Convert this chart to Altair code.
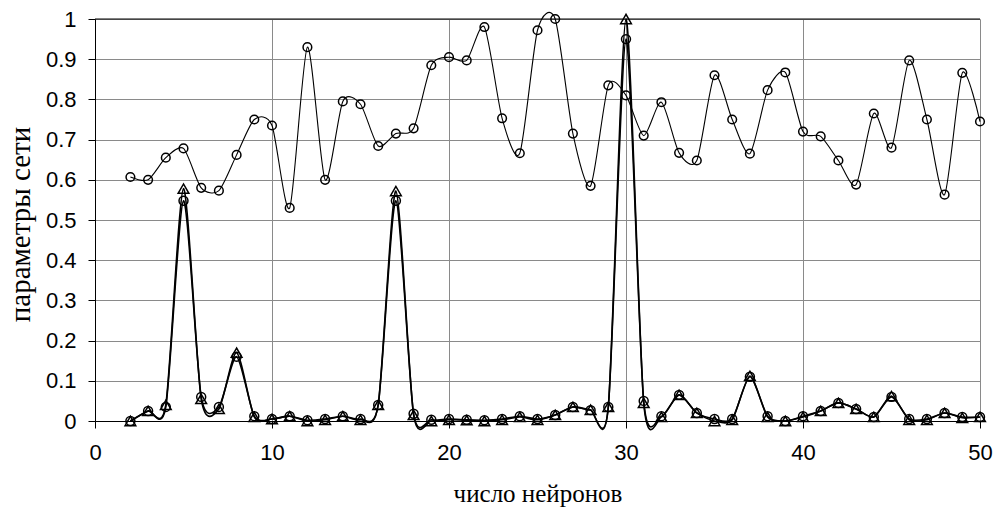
import altair as alt
import pandas as pd

x_vals = list(range(2, 51))

upper = [0.607, 0.600, 0.655, 0.678, 0.580, 0.573, 0.662, 0.750, 0.735, 0.530,
         0.930, 0.600, 0.795, 0.788, 0.684, 0.715, 0.728, 0.885, 0.905, 0.897,
         0.980, 0.753, 0.666, 0.972, 1.000, 0.715, 0.585, 0.835, 0.810, 0.710,
         0.793, 0.667, 0.648, 0.860, 0.750, 0.665, 0.823, 0.867, 0.720, 0.708,
         0.648, 0.588, 0.765, 0.680, 0.897, 0.750, 0.563, 0.866, 0.745]

lower_circ = [0.000, 0.025, 0.035, 0.548, 0.060, 0.035, 0.160, 0.012, 0.005, 0.012,
              0.002, 0.005, 0.012, 0.005, 0.040, 0.548, 0.018, 0.003, 0.005, 0.003,
              0.002, 0.005, 0.012, 0.005, 0.015, 0.035, 0.027, 0.035, 0.950, 0.050,
              0.012, 0.065, 0.020, 0.005, 0.005, 0.110, 0.012, 0.000, 0.012, 0.025,
              0.045, 0.030, 0.010, 0.060, 0.005, 0.005, 0.020, 0.010, 0.010]

lower_tri = [0.000, 0.025, 0.040, 0.578, 0.055, 0.030, 0.170, 0.010, 0.005, 0.012,
             0.000, 0.003, 0.012, 0.003, 0.040, 0.572, 0.015, 0.000, 0.003, 0.002,
             0.000, 0.003, 0.010, 0.003, 0.015, 0.035, 0.028, 0.035, 1.000, 0.045,
             0.010, 0.065, 0.020, 0.000, 0.003, 0.112, 0.010, 0.000, 0.010, 0.025,
             0.045, 0.030, 0.010, 0.062, 0.003, 0.003, 0.020, 0.008, 0.010]

x_ticks = [0, 10, 20, 30, 40, 50]
y_ticks = [round(i * 0.1, 1) for i in range(11)]

df_u = pd.DataFrame({"x": x_vals, "y": upper})
df_c = pd.DataFrame({"x": x_vals, "y": lower_circ})
df_t = pd.DataFrame({"x": x_vals, "y": lower_tri})

xscale = alt.Scale(domain=[0, 50], nice=False, zero=False)
yscale = alt.Scale(domain=[0, 1], nice=False)

xaxis = alt.Axis(values=x_ticks, grid=True, gridColor="#8a8a8a", gridWidth=1,
                 domainColor="black", tickColor="black", tickSize=7,
                 labelFont="Liberation Sans", labelFontSize=22, labelColor="black",
                 labelPadding=14, labelFlush=False,
                 title="число нейронов", titleFont="Liberation Serif",
                 titleFontSize=25, titleFontWeight="normal", titleColor="black",
                 titleY=80, titleBaseline="alphabetic")
yaxis = alt.Axis(values=y_ticks, format=".1~f", grid=True, gridColor="#8a8a8a",
                 gridWidth=1, domainColor="black", tickColor="black", tickSize=7,
                 labelFont="Liberation Sans", labelFontSize=22, labelColor="black",
                 labelPadding=12, labelFlush=False,
                 title="параметры сети", titleFont="Liberation Serif",
                 titleFontSize=29, titleFontWeight="normal", titleColor="black",
                 titleAngle=270, titleX=-75, titleY=205, titleAlign="center",
                 titleBaseline="middle")

base_x = alt.X("x:Q", scale=xscale, axis=xaxis)
base_y = alt.Y("y:Q", scale=yscale, axis=yaxis)

top_rule = alt.Chart(pd.DataFrame({"y": [1.0]})).mark_rule(color="black", strokeWidth=1).encode(
    y=alt.Y("y:Q", scale=yscale), x=alt.value(0), x2=alt.value(885))

def line(df, w):
    return alt.Chart(df).mark_line(interpolate="cardinal", tension=0.25, color="black",
                                   strokeWidth=w).encode(x=base_x, y=base_y)

def pts(df, shape, size):
    return alt.Chart(df).mark_point(shape=shape, filled=False, size=size, stroke="black",
                                    strokeWidth=1.5, opacity=1).encode(x=base_x, y=base_y)

chart = alt.layer(
    top_rule,
    line(df_u, 1.1),
    line(df_c, 1.6),
    line(df_t, 1.6),
    pts(df_u, "circle", 75),
    pts(df_c, "circle", 80),
    pts(df_t, "triangle-up", 115),
).properties(
    width=885, height=402,
    autosize=alt.AutoSizeParams(type="none"),
    padding={"left": 95, "top": 19, "right": 15, "bottom": 86},
    background="white",
).configure_view(stroke=None)

chart.save("out.html", embed_options={"renderer": "svg", "actions": False})
